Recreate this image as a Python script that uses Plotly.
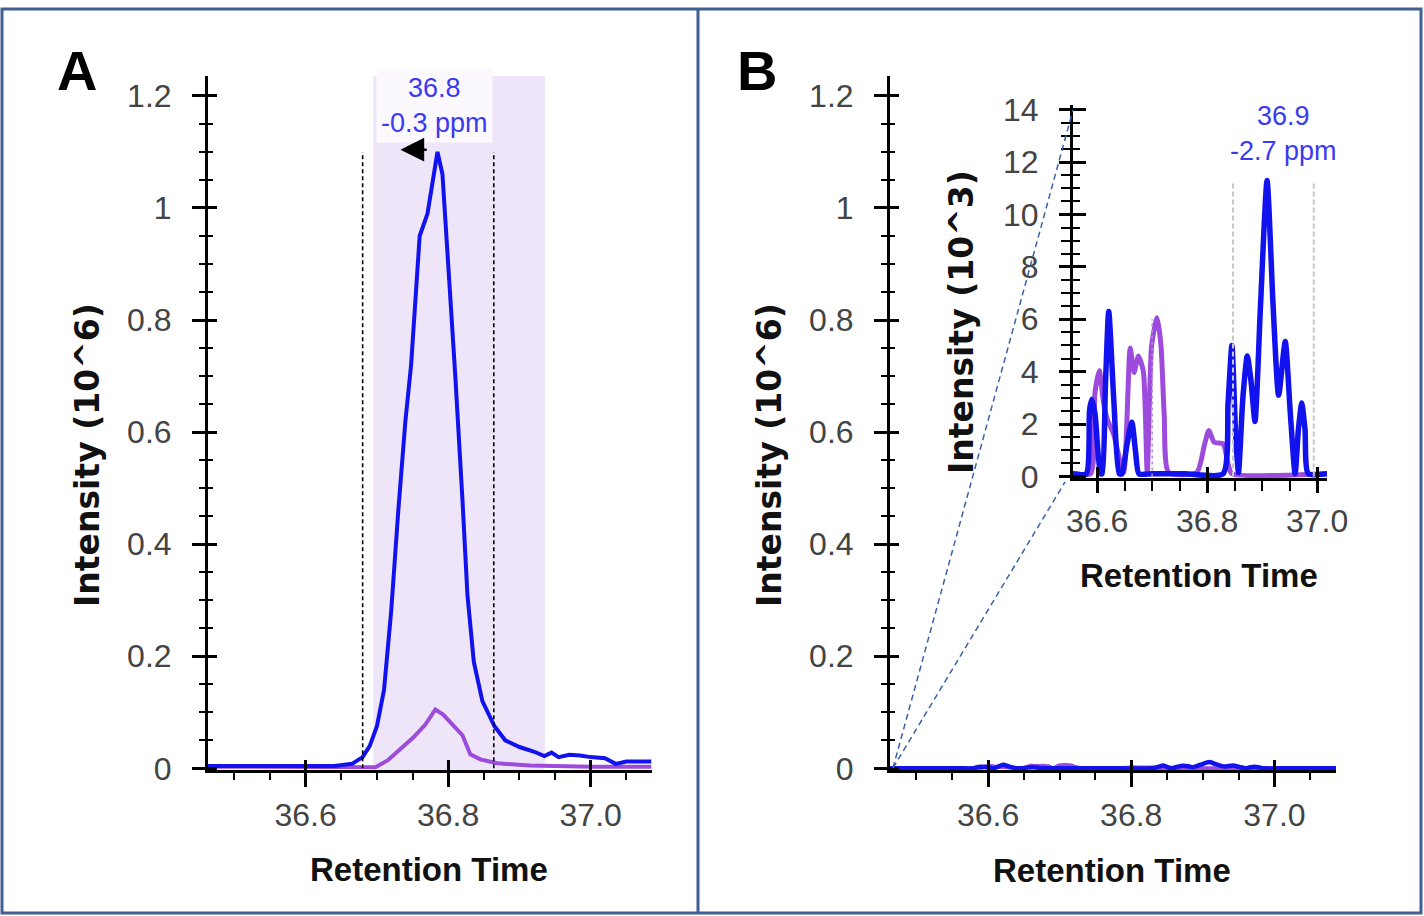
import plotly.graph_objects as go

# ---- data ----
# Panel A: XIC traces, intensity in 10^6
A_BLUE_RT = [36.463, 36.55, 36.64, 36.665, 36.68, 36.69, 36.70, 36.71, 36.72, 36.73, 36.74,
             36.748, 36.76, 36.771, 36.778, 36.785, 36.792, 36.80, 36.81, 36.82, 36.827,
             36.836, 36.848, 36.865, 36.88, 36.90, 36.92, 36.935, 36.945, 36.955, 36.97,
             36.985, 37.0, 37.02, 37.035, 37.05, 37.085]
A_BLUE_INT = [0.004, 0.004, 0.004, 0.008, 0.02, 0.04, 0.075, 0.14, 0.28, 0.46, 0.62,
              0.72, 0.95, 0.99, 1.04, 1.10, 1.06, 0.91, 0.70, 0.48, 0.31,
              0.19, 0.12, 0.075, 0.05, 0.038, 0.03, 0.022, 0.028, 0.02, 0.024,
              0.023, 0.02, 0.018, 0.008, 0.012, 0.012]
A_PURPLE_RT = [36.463, 36.60, 36.698, 36.715, 36.733, 36.751, 36.768, 36.782, 36.793, 36.807,
               36.820, 36.831, 36.845, 36.869, 36.915, 37.0, 37.085]
A_PURPLE_INT = [0.003, 0.003, 0.002, 0.014, 0.034, 0.055, 0.078, 0.105, 0.096, 0.076,
                0.059, 0.025, 0.016, 0.009, 0.005, 0.003, 0.003]
A_PEAK_RT = 36.785
A_PEAK_INT = 1.10
A_PEAK_LABEL = "36.8<br>-0.3 ppm"
A_BOUNDS = [36.680, 36.864]          # integration boundaries (dashed)
A_WINDOW = [36.695, 36.936]          # shaded window

# Panel B: XIC traces, intensity in 10^3 (inset); main plot shows them in 10^6
B_BLUE_RT = [36.463, 36.556, 36.580, 36.586, 36.590, 36.596, 36.606, 36.609, 36.615, 36.621,
             36.630, 36.640, 36.645, 36.654, 36.663, 36.670, 36.676, 36.70, 36.76, 36.829,
             36.838, 36.845, 36.852, 36.857, 36.865, 36.873, 36.880, 36.887, 36.897, 36.909,
             36.920, 36.930, 36.942, 36.951, 36.960, 36.966, 36.972, 36.978, 36.984, 37.018,
             37.087]
B_BLUE_INT = [0.1, 0.1, 0.1, 2.5, 2.95, 2.4, 0.1, 0.1, 3.5, 6.3,
              3.0, 0.1, 0.1, 1.2, 2.07, 0.9, 0.1, 0.1, 0.1, 0.1,
              2.8, 5.0, 1.5, 0.15, 3.0, 4.6, 3.6, 2.1, 6.5, 11.3,
              6.5, 3.1, 5.15, 2.5, 0.1, 1.8, 2.8, 1.8, 0.1, 0.1,
              0.1]
B_PURPLE_RT = [36.463, 36.556, 36.588, 36.596, 36.604, 36.611, 36.618, 36.630, 36.648, 36.660,
               36.667, 36.675, 36.684, 36.691, 36.699, 36.709, 36.716, 36.722, 36.730, 36.781,
               36.795, 36.803, 36.813, 36.829, 36.838, 36.845, 37.018, 37.087]
B_PURPLE_INT = [0.1, 0.1, 0.1, 3.2, 4.03, 2.9, 2.2, 1.6, 0.15, 4.9,
                3.97, 4.6, 4.0, 0.15, 5.0, 6.06, 5.0, 2.3, 0.15, 0.15,
                1.2, 1.75, 1.3, 1.24, 0.5, 0.1, 0.1, 0.1]
B_PEAK_RT = 36.938
B_PEAK_LABEL = "36.9<br>-2.7 ppm"
B_BOUNDS = [36.847, 36.994]          # inset integration boundaries (grey dashed)
B_MARK_RT = 36.700                   # dotted purple marker in inset
B_MARK_TOP = 6.0
B_BOUNDS_TOP = 11.25

Y_MAIN_TICKS = [0, 0.2, 0.4, 0.6, 0.8, 1.0, 1.2]
Y_INSET_TICKS = [0, 2, 4, 6, 8, 10, 12, 14]
X_TICKS = [36.6, 36.8, 37.0]
X_TITLE = "Retention Time"
Y_MAIN_TITLE = "Intensity (10^6)"
Y_INSET_TITLE = "Intensity (10^3)"

# ---- styling ----
W, H = 1424, 916
BLUE = "#1212EE"
PURPLE = "#9C4BDC"
SHADE = "#EFE5F9"
FRAME = "#3F5F95"
TEXT_BLUE = "#3A3AF0"
FONT = "Arial, Liberation Sans, sans-serif"
TICK_FONT = dict(family=FONT, size=32, color="#444444")
XTITLE_FONT = dict(family=FONT, size=33, color="#111111")
YTITLE_FONT = dict(family="DejaVu Sans, Arial, sans-serif", size=33, color="#111111")


def _px(p):
    return p / W


def _py(p):
    return 1 - p / H


# pixel boxes of the three plot areas
A_DOM_X = [_px(208), _px(652)]
B_DOM_X = [_px(890), _px(1336)]
MAIN_DOM_Y = [_py(770), _py(76)]
INSET_DOM_X = [_px(1073), _px(1327)]
INSET_DOM_Y = [_py(478), _py(105)]

X_RANGE_MAIN = [36.463, 37.086]
Y_RANGE_MAIN = [-0.003, 1.2355]
X_RANGE_INSET = [36.556, 37.018]
Y_RANGE_INSET = [-0.06, 14.18]

fig = go.Figure()

# panel A traces
fig.add_trace(go.Scatter(x=A_PURPLE_RT, y=A_PURPLE_INT, mode="lines", line=dict(color=PURPLE, width=4),
                         xaxis="x", yaxis="y", showlegend=False, hoverinfo="skip"))
fig.add_trace(go.Scatter(x=A_BLUE_RT, y=A_BLUE_INT, mode="lines", line=dict(color=BLUE, width=4),
                         xaxis="x", yaxis="y", showlegend=False, hoverinfo="skip"))

# panel B main traces (10^3 -> 10^6)
fig.add_trace(go.Scatter(x=B_PURPLE_RT, y=[v / 1000.0 for v in B_PURPLE_INT], mode="lines",
                         line=dict(color=PURPLE, width=4, shape="spline", smoothing=0.6),
                         xaxis="x3", yaxis="y3", showlegend=False, hoverinfo="skip"))
fig.add_trace(go.Scatter(x=B_BLUE_RT, y=[v / 1000.0 for v in B_BLUE_INT], mode="lines",
                         line=dict(color=BLUE, width=4.5, shape="spline", smoothing=0.6),
                         xaxis="x3", yaxis="y3", showlegend=False, hoverinfo="skip"))

# panel B inset traces
fig.add_trace(go.Scatter(x=B_PURPLE_RT, y=B_PURPLE_INT, mode="lines",
                         line=dict(color=PURPLE, width=5, shape="spline", smoothing=0.6),
                         xaxis="x5", yaxis="y5", showlegend=False, hoverinfo="skip"))
fig.add_trace(go.Scatter(x=B_BLUE_RT, y=B_BLUE_INT, mode="lines",
                         line=dict(color=BLUE, width=5.5, shape="spline", smoothing=0.6),
                         xaxis="x5", yaxis="y5", showlegend=False, hoverinfo="skip"))

# empty traces so the overlay (inside-tick) axes get drawn
for tX, tY in [("x2", "y"), ("x", "y2"), ("x4", "y3"), ("x3", "y4"), ("x6", "y5"), ("x5", "y6")]:
    fig.add_trace(go.Scatter(x=[], y=[], xaxis=tX, yaxis=tY, showlegend=False, hoverinfo="skip"))


def _xAxis(domain, rng, anchor, outLen, minorLen):
    return dict(domain=domain, range=rng, anchor=anchor, tickvals=X_TICKS, tickformat=".1f",
                ticks="outside", ticklen=outLen, tickwidth=2.5, tickcolor="black",
                minor=dict(dtick=0.05, tick0=36.0, ticks="outside", ticklen=minorLen, tickwidth=2, tickcolor="black"),
                showline=True, linecolor="black", linewidth=3, showgrid=False, zeroline=False,
                tickfont=TICK_FONT, ticklabelstandoff=1, automargin=False)


def _yAxis(domain, rng, anchor, ticks, minorStep, outLen, minorLen):
    return dict(domain=domain, range=rng, anchor=anchor, tickvals=ticks,
                ticks="outside", ticklen=outLen, tickwidth=2.5, tickcolor="black",
                minor=dict(dtick=minorStep, tick0=0, ticks="outside", ticklen=minorLen, tickwidth=2, tickcolor="black"),
                showline=True, linecolor="black", linewidth=3, showgrid=False, zeroline=False,
                tickfont=TICK_FONT, ticklabelstandoff=14, automargin=False)


def _insideX(over, domain, rng, anchor, inLen):
    return dict(overlaying=over, domain=domain, range=rng, anchor=anchor, tickvals=X_TICKS,
                ticks="inside", ticklen=inLen, tickwidth=2.5, tickcolor="black", automargin=False,
                showticklabels=False, showline=False, showgrid=False, zeroline=False)


def _insideY(over, domain, rng, anchor, ticks, minorStep, inLen, minorLen):
    return dict(overlaying=over, domain=domain, range=rng, anchor=anchor, tickvals=ticks,
                ticks="inside", ticklen=inLen, tickwidth=2.5, tickcolor="black", automargin=False,
                minor=dict(dtick=minorStep, tick0=0, ticks="inside", ticklen=minorLen, tickwidth=2, tickcolor="black"),
                showticklabels=False, showline=False, showgrid=False, zeroline=False)


fig.update_layout(
    width=W, height=H, margin=dict(l=0, r=0, t=0, b=0, pad=0), autosize=False,
    paper_bgcolor="white", plot_bgcolor="rgba(0,0,0,0)",
    xaxis=_xAxis(A_DOM_X, X_RANGE_MAIN, "y", 14, 7),
    yaxis=_yAxis(MAIN_DOM_Y, Y_RANGE_MAIN, "x", Y_MAIN_TICKS, 0.05, 13, 6),
    xaxis2=_insideX("x", A_DOM_X, X_RANGE_MAIN, "y", 10),
    yaxis2=_insideY("y", MAIN_DOM_Y, Y_RANGE_MAIN, "x", Y_MAIN_TICKS, 0.05, 9, 5),
    xaxis3=_xAxis(B_DOM_X, X_RANGE_MAIN, "y3", 14, 7),
    yaxis3=_yAxis(MAIN_DOM_Y, Y_RANGE_MAIN, "x3", Y_MAIN_TICKS, 0.05, 13, 6),
    xaxis4=_insideX("x3", B_DOM_X, X_RANGE_MAIN, "y3", 10),
    yaxis4=_insideY("y3", MAIN_DOM_Y, Y_RANGE_MAIN, "x3", Y_MAIN_TICKS, 0.05, 9, 5),
    xaxis5=_xAxis(INSET_DOM_X, X_RANGE_INSET, "y5", 12, 10),
    yaxis5=_yAxis(INSET_DOM_Y, Y_RANGE_INSET, "x5", Y_INSET_TICKS, 0.5, 11, 9),
    xaxis6=_insideX("x5", INSET_DOM_X, X_RANGE_INSET, "y5", 11),
    yaxis6=_insideY("y5", INSET_DOM_Y, Y_RANGE_INSET, "x5", Y_INSET_TICKS, 0.5, 13, 7),
)

tShapes = []
# shaded window and integration boundaries in panel A
tShapes.append(dict(type="rect", xref="x", yref="y domain", x0=A_WINDOW[0], x1=A_WINDOW[1], y0=0, y1=1,
                    fillcolor=SHADE, line=dict(width=0), layer="below"))
for tRt in A_BOUNDS:
    tShapes.append(dict(type="line", xref="x", yref="y", x0=tRt, x1=tRt, y0=0, y1=A_PEAK_INT,
                        line=dict(color="black", width=1.6, dash="4px,3px")))
# inset boundaries
for tRt in B_BOUNDS:
    tShapes.append(dict(type="line", xref="x5", yref="y5", x0=tRt, x1=tRt, y0=0, y1=B_BOUNDS_TOP,
                        line=dict(color="#C8C8C8", width=2, dash="5px,3px")))
tShapes.append(dict(type="line", xref="x5", yref="y5", x0=B_MARK_RT, x1=B_MARK_RT, y0=0, y1=B_MARK_TOP,
                    line=dict(color="#B58BE0", width=1.5, dash="dot")))
# zoom connector lines from the main B origin to the inset's left corners
tOriginX = B_DOM_X[0] + _px(3)
tOriginY = MAIN_DOM_Y[0] + 2.0 / H
tShapes.append(dict(type="line", xref="paper", yref="paper", x0=tOriginX, y0=tOriginY,
                    x1=INSET_DOM_X[0], y1=INSET_DOM_Y[1] - 5.0 / H,
                    line=dict(color="#3A62A8", width=1.5, dash="6px,4px")))
tShapes.append(dict(type="line", xref="paper", yref="paper", x0=tOriginX, y0=tOriginY,
                    x1=INSET_DOM_X[0] - _px(8), y1=INSET_DOM_Y[0] - 4.0 / H,
                    line=dict(color="#3A62A8", width=1.5, dash="6px,4px")))
# panel frames
tShapes.append(dict(type="rect", xref="paper", yref="paper", x0=_px(2), x1=_px(1421), y0=_py(913), y1=_py(9),
                    line=dict(color=FRAME, width=3), fillcolor="rgba(0,0,0,0)"))
tShapes.append(dict(type="line", xref="paper", yref="paper", x0=_px(698), x1=_px(698), y0=_py(913), y1=_py(9),
                    line=dict(color=FRAME, width=3)))
fig.update_layout(shapes=tShapes)


def _title(text, xPx, yPx, font, angle=0):
    return dict(text="<b>" + text + "</b>", xref="paper", yref="paper", x=_px(xPx), y=_py(yPx),
                xanchor="center", yanchor="middle", textangle=angle, showarrow=False, font=font)


tAnn = [
    _title("A", 77, 70, dict(family=FONT, size=56, color="black")),
    _title("B", 757, 71, dict(family=FONT, size=56, color="black")),
    # axis titles
    _title(X_TITLE, 429, 869, XTITLE_FONT),
    _title(X_TITLE, 1112, 870, XTITLE_FONT),
    _title(X_TITLE, 1199, 575, XTITLE_FONT),
    _title(Y_MAIN_TITLE, 87, 455, YTITLE_FONT, -90),
    _title(Y_MAIN_TITLE, 769, 455, YTITLE_FONT, -90),
    _title(Y_INSET_TITLE, 961, 322, YTITLE_FONT, -90),
    # peak labels
    dict(text=A_PEAK_LABEL, xref="x", yref="y", x=A_PEAK_RT - 0.004, y=1.182, showarrow=False,
         xanchor="center", font=dict(family=FONT, size=27, color=TEXT_BLUE), bgcolor="#FBF8FE", borderpad=4,
         align="center", yanchor="middle"),
    dict(text="", xref="x", yref="y", x=36.733, y=1.104, ax=36.772, ay=1.104, axref="x", ayref="y",
         showarrow=True, arrowhead=2, arrowsize=1.9, arrowwidth=2.5, arrowcolor="black"),
    dict(text=B_PEAK_LABEL, xref="x5", yref="y5", x=B_PEAK_RT, y=13.1, showarrow=False,
         xanchor="center", font=dict(family=FONT, size=27, color=TEXT_BLUE), align="center", yanchor="middle"),
]
fig.update_layout(annotations=tAnn)

# pin the figure to the page corner so the 1424x916 canvas fills the window exactly
tPost = ("document.body.style.margin='0';document.body.style.overflow='hidden';"
         "var g=document.getElementById('{plot_id}');g.style.position='absolute';"
         "g.style.left='0px';g.style.top='0px';")
fig.write_html("out.html", post_script=tPost, config={"displayModeBar": False})
